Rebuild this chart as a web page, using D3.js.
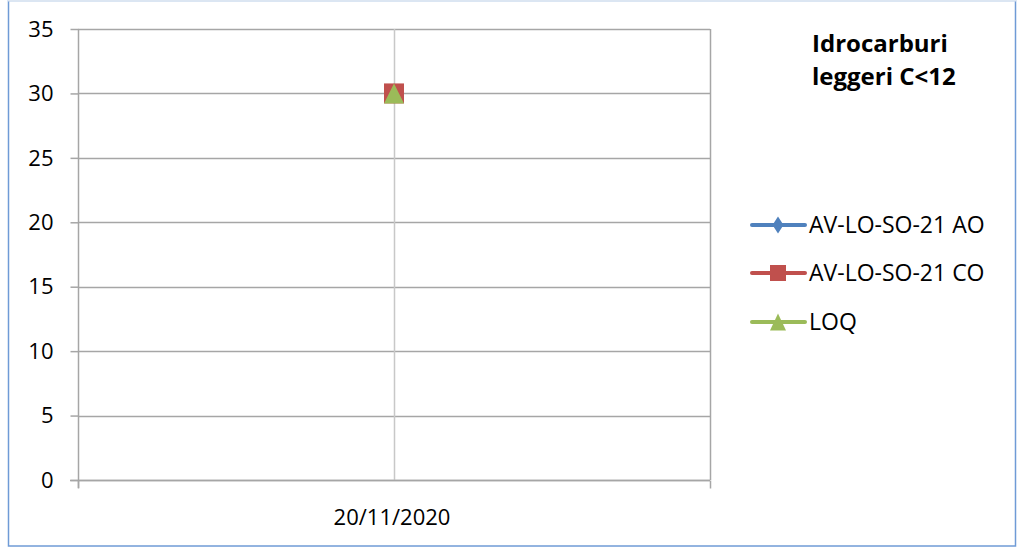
<!DOCTYPE html>
<html><head><meta charset="utf-8">
<script src="https://cdn.jsdelivr.net/npm/d3@7"></script>
<style>body{margin:0;background:#fff}svg{display:block}</style>
</head><body>
<svg id="c" width="1024" height="551"></svg>
<script>
const categories = ["20/11/2020"];
const seriesNames = ["AV-LO-SO-21 AO", "AV-LO-SO-21 CO", "LOQ"];
const seriesAO = [30];
const seriesCO = [30];
const seriesLOQ = [30];
const yTicks = [0, 5, 10, 15, 20, 25, 30, 35];
const titleLines = ["Idrocarburi", "leggeri C<12"];

const colors = ["#4F81BD", "#C0504D", "#9BBB59"];
const seriesData = [seriesAO, seriesCO, seriesLOQ];
const font = "'Open Sans', 'Liberation Sans', sans-serif";

function shape(type, w, h) {
  const a = w / 2, b = h / 2;
  if (type === 0) return `M0,${-b}L${a},0L0,${b}L${-a},0Z`;
  if (type === 1) return `M${-a},${-b}H${a}V${b}H${-a}Z`;
  return `M0,${-b}L${a},${b}H${-a}Z`;
}

const svg = d3.select("#c");
svg.append("rect").attr("x", 8.5).attr("y", 0.5).attr("width", 1007).attr("height", 545.5)
  .attr("fill", "#fff").attr("stroke", "#6f9bd6").attr("stroke-width", 1.5);
svg.append("line").attr("x1", 8).attr("x2", 1016).attr("y1", 0.5).attr("y2", 0.5).attr("stroke", "#dce6f2").attr("stroke-width", 2);

const L = 78, R = 710, T = 29, B = 480;
const y = d3.scaleLinear().domain([0, 35]).range([B, T]);
const x = d3.scaleBand().domain(categories).range([L, R]);

const g = svg.append("g");
g.selectAll(".hg").data(yTicks).join("line")
  .attr("x1", L).attr("x2", R).attr("y1", d => Math.round(y(d)) + 0.5).attr("y2", d => Math.round(y(d)) + 0.5)
  .attr("stroke", "#a6a6a6").attr("stroke-width", 1.5);
g.append("line").attr("x1", R + 0.5).attr("x2", R + 0.5).attr("y1", T).attr("y2", B).attr("stroke", "#a6a6a6").attr("stroke-width", 1.5);
g.selectAll(".vg").data(categories).join("line")
  .attr("x1", d => Math.round(x(d) + x.bandwidth() / 2) + 0.5).attr("x2", d => Math.round(x(d) + x.bandwidth() / 2) + 0.5)
  .attr("y1", T).attr("y2", B).attr("stroke", "#c8c8c8").attr("stroke-width", 1.5);

const yAxis = d3.axisLeft(y).tickValues(yTicks).tickSize(8).tickPadding(17).tickFormat(d3.format("d"));
const ya = svg.append("g").attr("transform", `translate(${L + 0.5},0)`).call(yAxis);
ya.select(".domain").attr("stroke", "#a6a6a6").attr("stroke-width", 1.5).attr("d", `M0,${T}V${B + 8}`);
ya.selectAll(".tick line").attr("stroke", "#a6a6a6").attr("stroke-width", 1.5);
ya.selectAll(".tick text").attr("font-family", font).attr("font-size", 22).attr("fill", "#000").attr("dy", "0.33em");

const xa = svg.append("g").attr("transform", `translate(0,${Math.round(B) + 0.5})`);
xa.append("line").attr("x1", L - 8).attr("x2", R).attr("stroke", "#a6a6a6").attr("stroke-width", 1.5);
xa.selectAll(".xt").data([L, R]).join("line").attr("x1", d => d + 0.5).attr("x2", d => d + 0.5).attr("y1", 0).attr("y2", 8)
  .attr("stroke", "#a6a6a6").attr("stroke-width", 1.5);
xa.selectAll(".xl").data(categories).join("text")
  .attr("x", d => x(d) + x.bandwidth() / 2 - 2).attr("y", 44).attr("text-anchor", "middle")
  .attr("font-family", font).attr("font-size", 22).attr("fill", "#000").text(d => d);

const msz = [[14, 20], [20, 20], [20, 20]];
seriesData.forEach((vals, i) => {
  svg.append("g").selectAll("path").data(vals).join("path")
    .attr("transform", (d, j) => `translate(${x(categories[j]) + x.bandwidth() / 2},${y(d)})`)
    .attr("d", shape(i, msz[i][0], msz[i][1]))
    .attr("fill", colors[i]);
});

svg.append("g").selectAll("text").data(titleLines).join("text")
  .attr("x", 812).attr("y", (d, i) => 52 + i * 33)
  .attr("font-family", font).attr("font-size", 24).attr("font-weight", "bold").attr("fill", "#000").text(d => d);

const lsz = [[11, 17], [16, 16], [16, 17]];
const lg = svg.append("g").selectAll("g").data(seriesNames).join("g")
  .attr("transform", (d, i) => `translate(0,${[225, 273, 322][i]})`);
lg.append("line").attr("x1", 752).attr("x2", 805).attr("stroke", (d, i) => colors[i]).attr("stroke-width", 4).attr("stroke-linecap", "round");
lg.append("path").attr("transform", "translate(778,0)")
  .attr("d", (d, i) => shape(i, lsz[i][0], lsz[i][1]))
  .attr("fill", (d, i) => colors[i]);
lg.append("text").attr("x", 809).attr("y", 8).attr("font-family", font).attr("font-size", 23).attr("fill", "#000").text(d => d);
</script>
</body></html>
